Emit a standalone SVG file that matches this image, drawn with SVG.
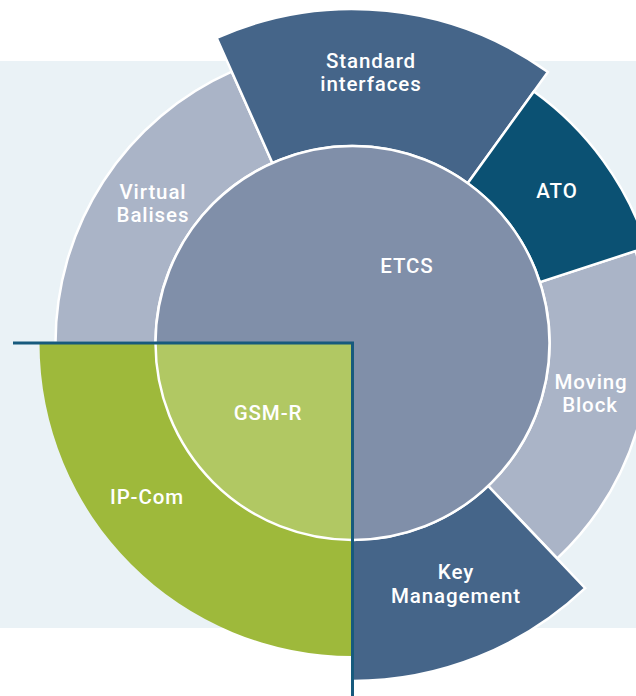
<svg xmlns="http://www.w3.org/2000/svg" width="636" height="696" viewBox="0 0 636 696">
<style>
.seg{stroke:#ffffff;stroke-width:2.5;stroke-linejoin:miter}
.lbl{font-family:Roboto,"Liberation Sans",sans-serif;font-weight:500;font-size:20.5px;letter-spacing:0.9px;fill:#ffffff;text-anchor:middle}
</style>
<rect x="0" y="61" width="636" height="567" fill="#eaf2f6"/>
<g id="virtual-balises">
<path class="seg" fill="#aab4c7" d="M55.5,343 A297,297 0 0 1 231.7,71.7 L272.4,163 A197,197 0 0 0 155.5,343 Z"/>
<text class="lbl" x="153" y="199">Virtual</text>
<text class="lbl" x="153" y="222">Balises</text>
</g>
<g id="moving-block">
<path class="seg" fill="#aab4c7" d="M635.5,250.9 A297,297 0 0 1 557.3,558.4 L488.1,485.9 A197,197 0 0 0 539.9,282.1 Z"/>
<text class="lbl" x="591" y="389">Moving</text>
<text class="lbl" x="590" y="412">Block</text>
</g>
<g id="standard-interfaces">
<path class="seg" fill="#456589" d="M216.7,37.9 A334,334 0 0 1 547.9,72.1 L467.7,183.2 A197,197 0 0 0 272.4,163 Z"/>
<text class="lbl" x="371" y="68">Standard</text>
<text class="lbl" x="371" y="91">interfaces</text>
</g>
<g id="ato">
<path class="seg" fill="#0b5173" d="M533.9,91.6 A310,310 0 0 1 647.3,247.2 L539.9,282.1 A197,197 0 0 0 467.7,183.2 Z"/>
<text class="lbl" x="557" y="198">ATO</text>
</g>
<g id="key-management">
<path class="seg" fill="#456589" d="M585.2,588.2 A338,338 0 0 1 352.5,681 L352.5,540 A197,197 0 0 0 488.1,485.9 Z"/>
<text class="lbl" x="456" y="579">Key</text>
<text class="lbl" x="456" y="603">Management</text>
</g>
<g id="ip-com">
<path fill="#9eb93b" d="M352.5,656 A313,313 0 0 1 39.5,343 L155.5,343 A197,197 0 0 0 352.5,540 Z"/>
<text class="lbl" x="147" y="504">IP-Com</text>
</g>
<g id="etcs">
<circle cx="352.5" cy="343" r="197" fill="#808fa9"/>
<text class="lbl" x="407" y="273">ETCS</text>
</g>
<g id="gsm-r">
<path fill="#b1c863" d="M352.5,343 L352.5,540 A197,197 0 0 1 155.5,343 Z"/>
<text class="lbl" x="268" y="420">GSM-R</text>
</g>
<circle cx="352.5" cy="343" r="197" fill="none" stroke="#ffffff" stroke-width="2.5"/>
<g id="connectors">
<polyline points="13,343 352.5,343 352.5,696" fill="none" stroke="#175a7d" stroke-width="3" stroke-linejoin="miter"/>
</g>
</svg>
